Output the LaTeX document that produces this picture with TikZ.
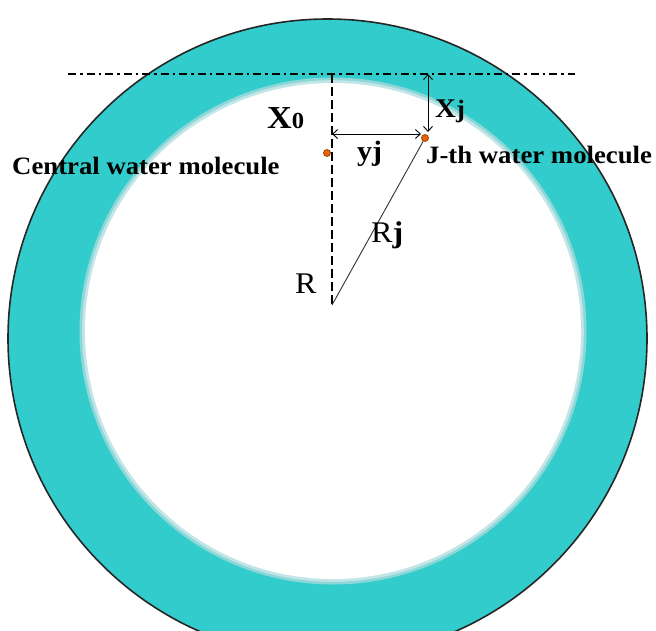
\documentclass[tikz,border=0pt]{standalone}
\usepackage{fontspec}
\setmainfont{Liberation Serif}
\newfontfamily\lblfont[FakeStretch=1.07]{Liberation Serif}
\usetikzlibrary{arrows.meta}
\definecolor{ringcol}{HTML}{33CCCC}
\definecolor{haloA}{HTML}{8ED7D8}
\definecolor{haloB}{HTML}{C2E6E7}
\definecolor{dotcol}{HTML}{E8620A}
\definecolor{dotedge}{HTML}{A04510}
\begin{document}
\begin{tikzpicture}[x=1pt,y=-1pt,
  lbl/.style={inner sep=0pt,anchor=base west,font=\lblfont\bfseries\fontsize{25pt}{25pt}\selectfont},
  mol/.style={circle,fill=dotcol,draw=dotedge,line width=0.8pt,inner sep=0pt,minimum size=7pt},
  dashdot/.style={line width=1.1pt,dash pattern=on 8pt off 4pt on 2.5pt off 4pt},
  vdash/.style={line width=1.2pt,dash pattern=on 9pt off 4pt},
  dim/.style={line width=0.9pt,{Straight Barb[length=5pt,width=9pt]}-{Straight Barb[length=5pt,width=9pt]}}
]
\useasboundingbox (0,0) rectangle (656,630);
\clip (0,0) rectangle (656,630);
% ring
\filldraw[fill=ringcol,draw=black!85,line width=1.6pt] (327.5,338.5) circle[radius=319.5pt];
\fill[haloA] (333,331) circle[radius=253.5pt];
\fill[haloB] (333,331) circle[radius=250.8pt];
\fill[white] (333,331) circle[radius=248pt];
% coordinates
\coordinate (top) at (332,74);
\coordinate (R) at (332,305);
\coordinate (dl) at (68,74);
\coordinate (dr) at (575,74);
\coordinate (ya) at (332,134);
\coordinate (yb) at (421,134);
\coordinate (xa) at (428,74);
\coordinate (xb) at (428,132);
% lines
\draw[dashdot] (dl) -- (dr);
\draw[vdash] (top) -- (R);
\node[mol] (jm) at (425,138) {};
\node[mol] (cm) at (327,153) {};
\draw[line width=0.9pt,black!80] (R) -- (jm);
\draw[dim] (ya) -- (yb);
\draw[dim] (xa) -- (xb);
% labels
\node[lbl] (ct) at (12,174) {Central water molecule};
\node[lbl] (jt) at (426,163) {J-th water molecule};
\node[lbl] (x0) at (267,128) {{\fontsize{32pt}{32pt}\selectfont X}{\fontsize{23pt}{23pt}\selectfont 0}};
\node[lbl] (xj) at (435,117) {{\fontsize{27pt}{27pt}\selectfont X}{\fontsize{25pt}{25pt}\selectfont j}};
\node[lbl,font=\lblfont\bfseries\fontsize{28pt}{28pt}\selectfont] (yj) at (357,160) {yj};
\node[lbl,font=\lblfont\fontsize{30pt}{30pt}\selectfont] (rl) at (295,293) {R};
\node[lbl,font=\lblfont\fontsize{30pt}{30pt}\selectfont] (rj) at (371,242) {R{\bfseries j}};
\end{tikzpicture}
\end{document}
